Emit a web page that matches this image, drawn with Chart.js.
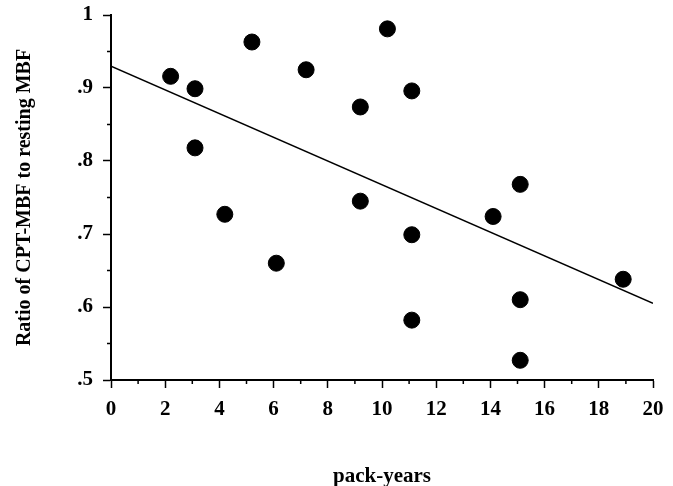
<!DOCTYPE html>
<html>
<head>
<meta charset="utf-8">
<script src="https://cdn.jsdelivr.net/npm/chart.js@4.4.0/dist/chart.umd.min.js"></script>
<style>
  html, body { margin: 0; padding: 0; background: #fff; }
  #wrap { width: 673px; height: 486px; }
</style>
</head>
<body>
<div id="wrap"><canvas id="scatter" width="673" height="486"></canvas></div>
<script>
// pack-years vs ratio
const packYears = [2.2, 3.1, 3.1, 4.2, 5.2, 6.1, 7.2, 9.2, 9.2, 10.2, 11.1, 11.1, 11.1, 14.1, 15.1, 15.1, 15.1, 18.9];
const ratio = [0.916, 0.899, 0.818, 0.727, 0.963, 0.660, 0.925, 0.874, 0.745, 0.981, 0.896, 0.699, 0.582, 0.724, 0.768, 0.610, 0.527, 0.638];

// regression line end points
const fitX = [0, 20];
const fitY = [0.93, 0.605];

const xMinor = [1, 3, 5, 7, 9, 11, 13, 15, 17, 19];
const yMinor = [0.55, 0.65, 0.75, 0.85, 0.95];

const serif = "'Liberation Serif', 'Times New Roman', serif";

const minorTicks = {
  id: 'minorTicks',
  afterDraw(chart) {
    const ctx = chart.ctx;
    const xs = chart.scales.x, ys = chart.scales.y;
    ctx.save();
    ctx.strokeStyle = '#000';
    ctx.lineWidth = 1.5;
    ctx.beginPath();
    xMinor.forEach(v => {
      const px = xs.getPixelForValue(v);
      ctx.moveTo(px, xs.top);
      ctx.lineTo(px, xs.top + 4);
    });
    yMinor.forEach(v => {
      const py = ys.getPixelForValue(v);
      ctx.moveTo(ys.right, py);
      ctx.lineTo(ys.right - 4, py);
    });
    ctx.stroke();
    ctx.restore();
  }
};

new Chart(document.getElementById('scatter').getContext('2d'), {
  type: 'scatter',
  data: {
    datasets: [
      {
        data: packYears.map((x, i) => ({ x: x, y: ratio[i] })),
        backgroundColor: '#000',
        borderColor: '#000',
        pointRadius: 8,
        pointHoverRadius: 8
      },
      {
        type: 'line',
        data: fitX.map((x, i) => ({ x: x, y: fitY[i] })),
        borderColor: '#000',
        borderWidth: 1.5,
        pointRadius: 0,
        fill: false
      }
    ]
  },
  options: {
    responsive: false,
    animation: false,
    layout: { padding: { top: 15, right: 20, left: 0, bottom: 0 } },
    plugins: { legend: { display: false }, tooltip: { enabled: false } },
    scales: {
      x: {
        type: 'linear',
        min: 0,
        max: 20,
        afterFit(scale) { scale.height = 106; scale.paddingLeft = 0; scale.paddingRight = 0; },
        border: { display: true, color: '#000', width: 2 },
        grid: { drawOnChartArea: false, drawTicks: true, tickLength: 8, tickColor: '#000', tickWidth: 1.5 },
        ticks: { stepSize: 2, color: '#000', padding: 9, maxRotation: 0, font: { family: serif, size: 21, weight: 'bold' } },
        title: {
          display: true,
          text: 'pack-years',
          color: '#000',
          padding: { top: 0, bottom: -3 },
          font: { family: serif, size: 21, weight: 'bold' }
        }
      },
      y: {
        type: 'linear',
        min: 0.5,
        max: 1,
        afterFit(scale) { scale.width = 111; scale.paddingTop = 0; scale.paddingBottom = 0; },
        border: { display: true, color: '#000', width: 2 },
        grid: { drawOnChartArea: false, drawTicks: true, tickLength: 8, tickColor: '#000', tickWidth: 1.5 },
        ticks: {
          stepSize: 0.1,
          color: '#000',
          padding: 10,
          font: { family: serif, size: 21, weight: 'bold' },
          callback: v => (Math.abs(v - 1) < 1e-9 ? '1' : '.' + Math.round(v * 10))
        },
        title: {
          display: true,
          text: 'Ratio of CPT-MBF to resting MBF',
          color: '#000',
          padding: { top: 13, bottom: 0 },
          font: { family: serif, size: 20, weight: 'bold' }
        }
      }
    }
  },
  plugins: [minorTicks]
});
</script>
</body>
</html>
